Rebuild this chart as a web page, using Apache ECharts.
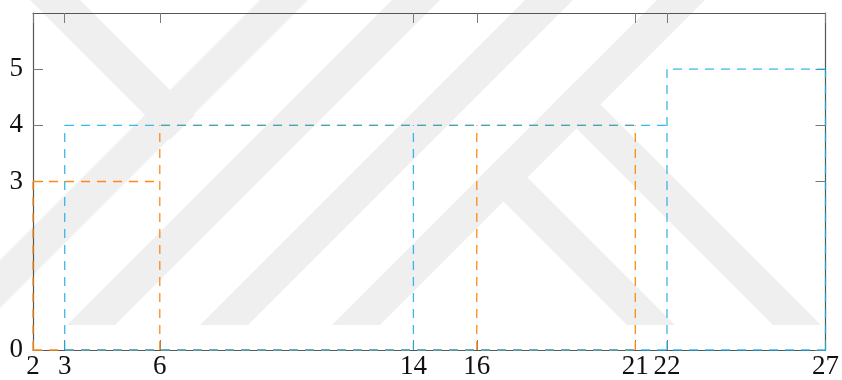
<!DOCTYPE html>
<html>
<head>
<meta charset="utf-8">
<script src="https://cdn.jsdelivr.net/npm/echarts@6/dist/echarts.min.js"></script>
<style>
  html, body { margin: 0; padding: 0; background: #ffffff; }
  #chart { width: 842px; height: 380px; }
</style>
</head>
<body>
<div id="chart"></div>
<script>
// Blocks as [start, end, height]
const orangeBlocks = [[2, 6, 3], [6, 16, 4], [16, 21, 4]];
const blueBlocks = [[3, 14, 4], [14, 22, 4], [22, 27, 5]];

// Tick positions
const xTicks = [2, 3, 6, 14, 16, 21, 22, 27];
const yTicks = [0, 3, 4, 5];

const X_MIN = 2, X_MAX = 27, Y_MIN = 0, Y_MAX = 6;

const ORANGE = '#ff8a12';
const BLUE = '#16ade9';
const DASH = [9, 7];
const DASH_PERIOD = DASH[0] + DASH[1];

// Block outlines split into edges. A vertical shared by two neighbouring
// blocks is drawn once (at the taller height); horizontals run left to right.
function blockEdges(blocks) {
  const verticals = new Map();
  const horizontals = [];
  blocks.forEach(([s, e, h]) => {
    [s, e].forEach(x => verticals.set(x, Math.max(verticals.get(x) || 0, h)));
    horizontals.push([[s, h], [e, h]]);
    horizontals.push([[s, 0], [e, 0]]);
  });
  const edges = [];
  verticals.forEach((h, x) => edges.push([[x, 0], [x, h]]));
  return edges.concat(horizontals);
}

function edgeSeries(blocks, color, opacity, toPx) {
  return blockEdges(blocks).map(seg => {
    let offset = 0;
    if (toPx && seg[0][1] === seg[1][1]) {
      // keep every horizontal on a shared dash phase
      const p0 = toPx([X_MIN, seg[0][1]]);
      const p1 = toPx(seg[0]);
      offset = ((p1[0] - p0[0]) % DASH_PERIOD + DASH_PERIOD) % DASH_PERIOD;
    }
    return {
      type: 'line',
      data: seg,
      showSymbol: false,
      symbol: 'none',
      clip: false,
      silent: true,
      animation: false,
      lineStyle: { color: color, width: 1.3, type: DASH, dashOffset: offset, opacity: opacity }
    };
  });
}

// Light grey diagonal background stripes
const BASE = 325, W = 48;
function upBand(a) {
  return [[a - BASE, BASE], [a + W - BASE, BASE], [a + W, 0], [a, 0]];
}
const stripes = [
  upBand(260), upBand(392), upBand(525), upBand(657),
  [[30, 0], [80, 0], [195, 115], [170, 140]],
  [[479.5, 177.5], [503.5, 153.5], [675, BASE], [627, BASE]],
  [[552.5, 104.5], [576.5, 80.5], [821, BASE], [773, BASE]]
];

const chart = echarts.init(document.getElementById('chart'), null, { renderer: 'canvas' });

const labelFont = { fontFamily: 'Liberation Serif', fontSize: 27, color: '#111111' };
const axisLineStyle = { color: '#555555', width: 1.2 };
const tickStyle = { color: '#7a7a7a', width: 1 };

function buildOption(toPx) {
  return {
    animation: false,
    backgroundColor: '#ffffff',
    graphic: stripes.map(p => ({
      type: 'polygon',
      z: -10,
      silent: true,
      shape: { points: p },
      style: { fill: '#efefef' }
    })),
    grid: { left: 33, right: 12, top: 13, bottom: 28, containLabel: false },
    xAxis: [
      {
        type: 'value', min: X_MIN, max: X_MAX, position: 'bottom',
        axisLine: { show: true, onZero: false, lineStyle: axisLineStyle },
        axisTick: { show: true, inside: true, length: 10, customValues: xTicks, lineStyle: tickStyle },
        axisLabel: Object.assign({ customValues: xTicks, margin: 3 }, labelFont),
        splitLine: { show: false }
      },
      {
        type: 'value', min: X_MIN, max: X_MAX, position: 'top',
        axisLine: { show: true, onZero: false, lineStyle: axisLineStyle },
        axisTick: { show: true, inside: true, length: 10, customValues: xTicks, lineStyle: tickStyle },
        axisLabel: { show: false },
        splitLine: { show: false }
      }
    ],
    yAxis: [
      {
        type: 'value', min: Y_MIN, max: Y_MAX, position: 'left',
        axisLine: { show: true, onZero: false, lineStyle: axisLineStyle },
        axisTick: { show: true, inside: true, length: 10, customValues: yTicks, lineStyle: tickStyle },
        axisLabel: Object.assign({ customValues: yTicks, margin: 10 }, labelFont),
        splitLine: { show: false }
      },
      {
        type: 'value', min: Y_MIN, max: Y_MAX, position: 'right',
        axisLine: { show: true, onZero: false, lineStyle: axisLineStyle },
        axisTick: { show: true, inside: true, length: 10, customValues: yTicks, lineStyle: tickStyle },
        axisLabel: { show: false },
        splitLine: { show: false }
      }
    ],
    series: [].concat(
      edgeSeries(orangeBlocks, ORANGE, 1, toPx),
      edgeSeries(blueBlocks, BLUE, 0.85, toPx)
    )
  };
}

// First pass lays out the grid; second pass aligns the dash phases.
chart.setOption(buildOption(null));
const toPx = v => chart.convertToPixel({ xAxisIndex: 0, yAxisIndex: 0 }, v);
chart.setOption(buildOption(toPx), { notMerge: true });
</script>
</body>
</html>
